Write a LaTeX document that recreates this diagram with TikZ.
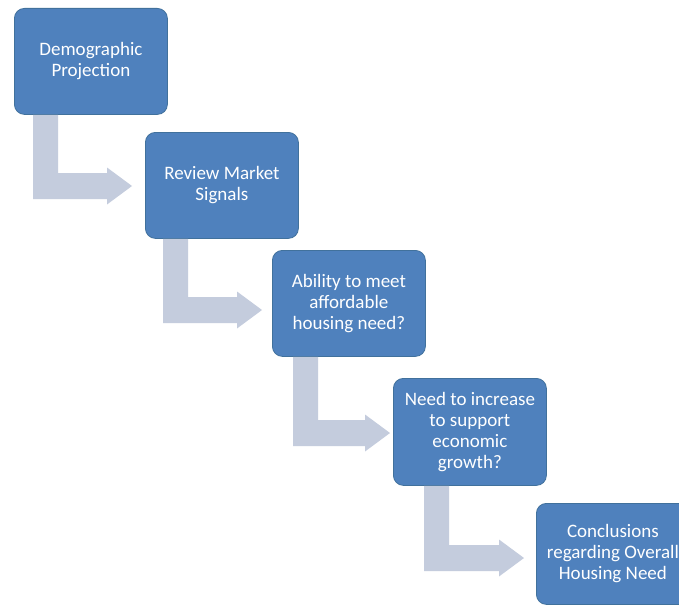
\documentclass[tikz,border=0pt]{standalone}
\usepackage{fontspec}
\setmainfont{Carlito}
\usetikzlibrary{calc}
\definecolor{boxblue}{HTML}{4F81BD}
\definecolor{boxedge}{HTML}{41719C}
\definecolor{arrowgray}{HTML}{C4CCDD}
\tikzset{
  stepbox/.style={draw=boxedge, line width=0.8pt, fill=boxblue, rounded corners=10pt,
    anchor=north west, minimum width=153pt, minimum height=106pt,
    text=white, align=center, font=\fontsize{19}{21}\selectfont, inner sep=2pt},
  bentfill/.style={fill=arrowgray}
}
% bent block arrow: down from the bottom of node #1 (bar starts #3 from its left edge),
% then right to the tip coordinate #2
\newcommand\bentarrow[3]{%
  \coordinate (s) at ($(#1.south west)+(#3,0)$);
  \path[bentfill] (s) -- ++(25,0) |- ($(#2)+(-25,-13)$) -- ++(0,-5.5) -- (#2)
    -- ($(#2)+(-25,18.5)$) -- ++(0,-5.5) -| (s) -- cycle;
}
\begin{document}
\begin{tikzpicture}[x=1pt,y=-1pt]
  \useasboundingbox (0,0) rectangle (679,607);
  \clip (0,0) rectangle (679,607);
  \fill[white] (0,0) rectangle (679,607);

  % process steps
  \node[stepbox] (demo) at (14,8) {Demographic\\Projection};
  \node[stepbox] (market) at (145,132) {Review Market\\Signals};
  \node[stepbox] (afford) at (272,250) {Ability to meet\\affordable\\housing need?};
  \node[stepbox, minimum height=107pt] (econ) at (393,378) {Need to increase\\to support\\economic\\growth?};
  \node[stepbox, minimum height=101pt] (concl) at (536,503) {Conclusions\\regarding Overall\\Housing Need};

  % arrow tips, just left of each following step
  \coordinate (t1) at ($(market.north west)+(-13,54)$);
  \coordinate (t2) at ($(afford.north west)+(-10,60)$);
  \coordinate (t3) at ($(econ.north west)+(-3,55)$);
  \coordinate (t4) at ($(concl.north west)+(-12,55)$);

  \bentarrow{demo}{t1}{19}
  \bentarrow{market}{t2}{18}
  \bentarrow{afford}{t3}{21}
  \bentarrow{econ}{t4}{31}
\end{tikzpicture}
\end{document}
